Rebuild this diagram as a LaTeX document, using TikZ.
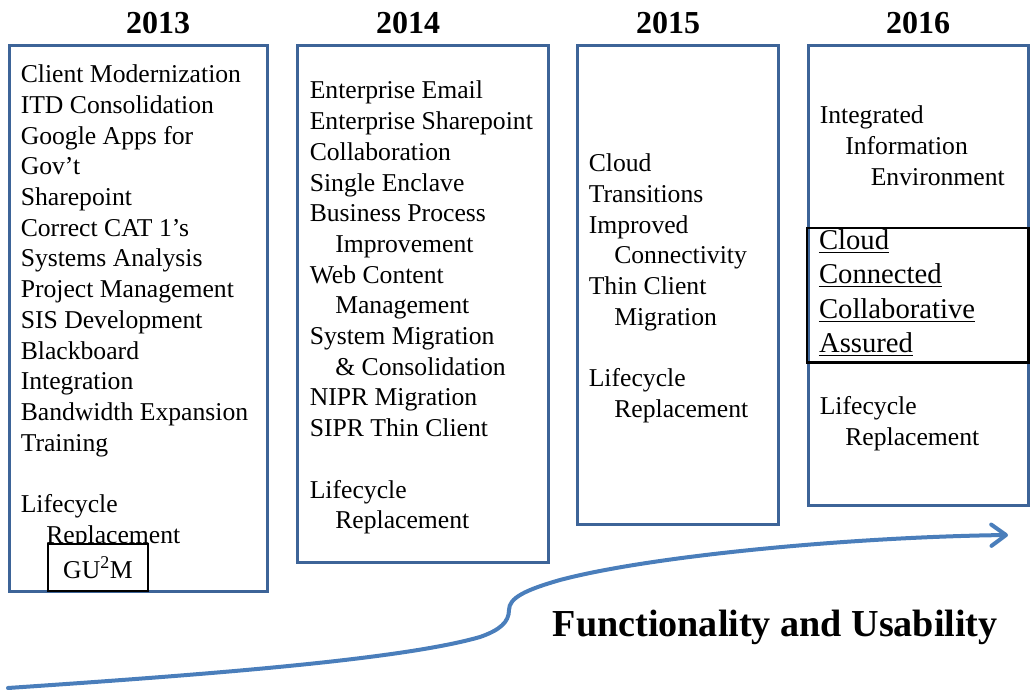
\documentclass[tikz,border=0pt]{standalone}
\usepackage{fontspec}
\setmainfont{Liberation Serif}
\usetikzlibrary{arrows.meta,calc}

\definecolor{boxblue}{RGB}{61,100,152}
\definecolor{arrowblue}{RGB}{74,126,187}

\tikzset{
  yearbox/.style={draw=boxblue, line width=2.25pt},
  yearlabel/.style={anchor=base, inner sep=0pt, font=\fontsize{24}{28}\selectfont\bfseries},
  item/.style={anchor=base west, inner sep=0pt, font=\fontsize{19.25}{23}\selectfont},
  bigitem/.style={anchor=base west, inner sep=0pt, font=\fontsize{21.5}{26}\selectfont},
  ulrule/.style={line width=1pt},
  growth/.style={draw=arrowblue, line width=3pt, line cap=round,
    -{Straight Barb[length=11pt, width=16pt, line width=3pt, round]}},
}

\begin{document}
\begin{tikzpicture}[x=0.75pt, y=-0.75pt]
\useasboundingbox (0,0) rectangle (1032,691);

% year headings
\node[yearlabel] (y2013) at (158,33.5) {2013};
\node[yearlabel] (y2014) at (408,33.5) {2014};
\node[yearlabel] (y2015) at (668,33.5) {2015};
\node[yearlabel] (y2016) at (918,33.5) {2016};

% year columns
\draw[yearbox] (9.5,45.7) rectangle (267.5,591.3);
\draw[yearbox] (297.5,45.7) rectangle (548,562.5);
\draw[yearbox] (577,45.7) rectangle (778.5,524.7);
\draw[yearbox] (808,45.7) rectangle (1028,505.7);

% 2013 items
\foreach \k/\ind/\txt in {
  0/0/Client Modernization, 1/0/ITD Consolidation, 2/0/Google Apps for,
  3/0/Gov’t, 4/0/Sharepoint, 5/0/Correct CAT 1’s, 6/0/Systems Analysis,
  7/0/Project Management, 8/0/SIS Development, 9/0/Blackboard,
  10/0/Integration, 11/0/Bandwidth Expansion, 12/0/Training,
  14/0/Lifecycle, 15/1/Replacement}
  \node[item] (a\k) at (20.5+25.5*\ind, 82.8+30.7*\k) {\txt};

% 2014 items
\foreach \k/\ind/\txt in {
  0/0/Enterprise Email, 1/0/Enterprise Sharepoint, 2/0/Collaboration,
  3/0/Single Enclave, 4/0/Business Process, 5/1/Improvement,
  6/0/Web Content, 7/1/Management, 8/0/System Migration,
  9/1/\& Consolidation, 10/0/NIPR Migration, 11/0/SIPR Thin Client,
  13/0/Lifecycle, 14/1/Replacement}
  \node[item] (b\k) at (309.5+25.5*\ind, 99+30.7*\k) {\txt};

% 2015 items
\foreach \k/\ind/\txt in {
  0/0/Cloud, 1/0/Transitions, 2/0/Improved, 3/1/Connectivity,
  4/0/Thin Client, 5/1/Migration, 7/0/Lifecycle, 8/1/Replacement}
  \node[item] (c\k) at (588.5+25.5*\ind, 171.7+30.7*\k) {\txt};

% 2016 items
\foreach \k/\ind/\txt in {
  0/0/Integrated, 1/1/Information, 2/2/Environment}
  \node[item] (d\k) at (819.5+25.5*\ind, 124+30.7*\k) {\txt};
\node[item] (d3) at (819.5,415) {Lifecycle};
\node[item] (d4) at (845,445.7) {Replacement};

% highlighted goals
\draw[line width=1.9pt] (807,228) rectangle (1028.7,362.3);
\foreach \k/\txt in {0/Cloud, 1/Connected, 2/Collaborative, 3/Assured} {
  \node[bigitem] (g\k) at (818.8, 249.5+34.5*\k) {\txt};
  \draw[ulrule] ($(g\k.base west)+(0,2.8)$) -- ($(g\k.base east)+(0,2.8)$);
}

% GU2M tag
\node[draw, line width=1.1pt, fill=white, inner sep=0pt,
      minimum width=100*0.75pt, minimum height=47*0.75pt,
      font=\fontsize{19.25}{23}\selectfont] (gum) at (98,567.5) {GU\textsuperscript{2}M};

% growth curve
\coordinate (s0) at (8,688);
\coordinate (s1) at (480,637);
\coordinate (s2) at (509,610);
\coordinate (s3) at (560,580);
\coordinate (s4) at (1008,535);
\draw[growth] (s0) .. controls (200,675) and (400,660) .. (s1)
  .. controls (500,630) and (509,622) .. (s2)
  .. controls (509,598) and (525,590) .. (s3)
  .. controls (650,556) and (850,537) .. (s4);

\node[anchor=base west, inner sep=0pt, font=\fontsize{28.6}{34}\selectfont\bfseries]
  (fu) at (552.5,636) {Functionality and Usability};

\end{tikzpicture}
\end{document}
